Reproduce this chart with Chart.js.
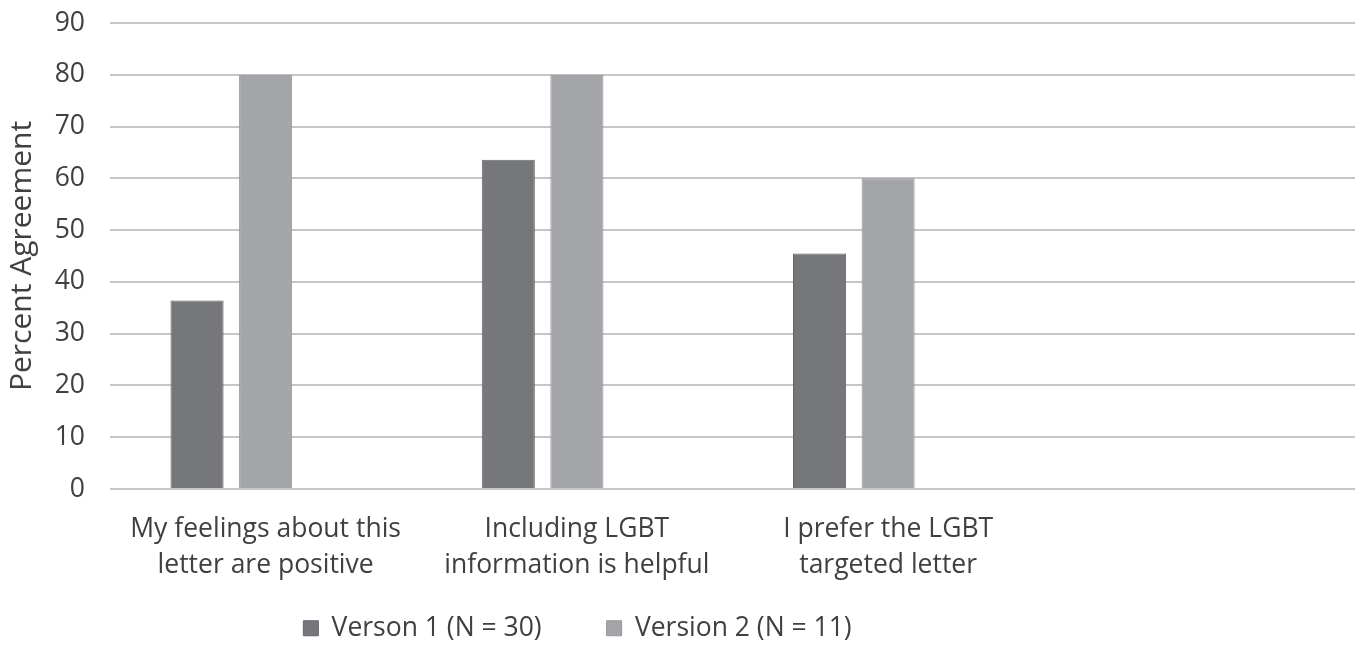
<!DOCTYPE html>
<html>
<head>
<meta charset="utf-8">
<script src="https://cdn.jsdelivr.net/npm/chart.js@4"></script>
<style>
  html, body { margin: 0; padding: 0; background: #ffffff; }
</style>
</head>
<body>
<canvas id="chart" width="1362" height="648"></canvas>
<script>
// Survey statements (fourth slot left blank, as in the original workbook layout)
const categories = [
  ["My feelings about this", "letter are positive"],
  ["Including LGBT", "information is helpful"],
  ["I prefer the LGBT", "targeted letter"],
  ""
];

// Percent agreement per letter version
const version1 = [36.4, 63.6, 45.5, null];
const version2 = [80, 80, 60, null];
// Unused third series slot from the source workbook (keeps bars left of centre)
const spareSeries = [null, null, null, null];

const seriesNames = ["Verson 1 (N = 30)", "Version 2 (N = 11)", ""];

// Value axis ticks
const yTicks = [0, 10, 20, 30, 40, 50, 60, 70, 80, 90];

const FONT = "'Open Sans', Lato, sans-serif";
const TEXT = "#404040";
const SIZE = 26.5;

// Move the legend block to where the workbook placed it
// (wide item spacing would otherwise make the legend box very tall)
const legendOffset = {
  id: "legendOffset",
  afterLayout(chart, args, opts) {
    const lg = chart.legend;
    if (!lg) return;
    lg.left -= opts.shiftX;
    lg.right -= opts.shiftX;
    lg.top = opts.top;
    lg.bottom = chart.height;
    lg.height = lg.bottom - lg.top;
  }
};

new Chart(document.getElementById("chart"), {
  type: "bar",
  data: {
    labels: categories,
    datasets: [
      {
        label: seriesNames[0],
        data: version1,
        backgroundColor: "#76777b",
        borderColor: "#65666a",
        borderWidth: 1
      },
      {
        label: seriesNames[1],
        data: version2,
        backgroundColor: "#a4a5a9",
        borderColor: "#95969a",
        borderWidth: 1
      },
      {
        label: seriesNames[2],
        data: spareSeries,
        backgroundColor: "rgba(0,0,0,0)"
      }
    ]
  },
  options: {
    responsive: false,
    animation: false,
    devicePixelRatio: 1,
    layout: { padding: { top: 23, right: 7, left: 4, bottom: 0 } },
    datasets: {
      bar: { categoryPercentage: 0.661, barPercentage: 0.774 }
    },
    scales: {
      x: {
        grid: { display: false },
        border: { display: false },
        ticks: {
          color: TEXT,
          font: { family: FONT, size: SIZE, lineHeight: 1.36 },
          padding: 14,
          maxRotation: 0,
          autoSkip: false
        },
        afterFit(scale) { scale.height = 114; }
      },
      y: {
        min: yTicks[0],
        max: yTicks[yTicks.length - 1],
        border: { display: false },
        grid: {
          color: "#c6c6c6",
          lineWidth: 2,
          drawTicks: true,
          tickLength: 25,
          tickColor: "rgba(0,0,0,0)"
        },
        ticks: {
          stepSize: yTicks[1] - yTicks[0],
          color: TEXT,
          font: { family: FONT, size: SIZE },
          padding: 0
        },
        title: {
          display: true,
          text: "Percent Agreement",
          color: TEXT,
          font: { family: FONT, size: 30 },
          padding: { top: 0, bottom: 0 }
        },
        afterFit(scale) { scale.width = 106; }
      }
    },
    plugins: {
      legend: {
        position: "bottom",
        maxHeight: 45,
        labels: {
          color: TEXT,
          font: { family: FONT, size: SIZE },
          boxWidth: 15,
          boxHeight: 15,
          padding: 65,
          filter: (item) => item.text !== ""
        }
      },
      legendOffset: { shiftX: 102, top: 550 },
      tooltip: { enabled: false }
    }
  },
  plugins: [legendOffset]
});
</script>
</body>
</html>
